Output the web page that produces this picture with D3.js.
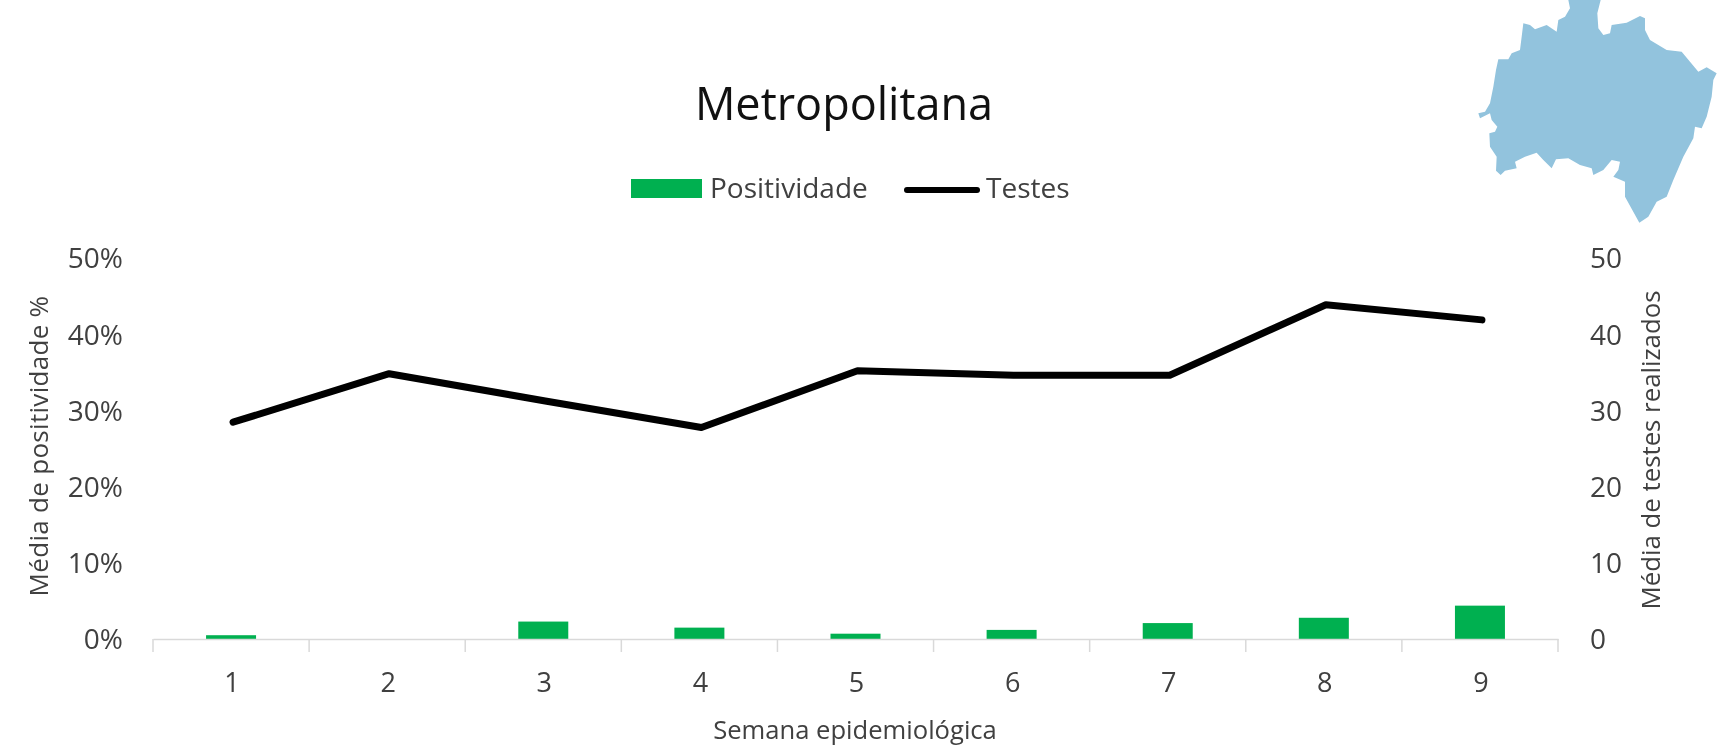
<!DOCTYPE html>
<html><head><meta charset="utf-8">
<script src="https://cdnjs.cloudflare.com/ajax/libs/d3/7.8.5/d3.min.js"></script>
<style>html,body{margin:0;background:#fff}svg{display:block;filter:blur(0.4px)}text{font-family:"Open Sans",sans-serif}</style>
</head><body><svg id="c" width="1728" height="756"></svg>
<script>
const weeks=[1,2,3,4,5,6,7,8,9];
const positividade=[0.5,0,2.3,1.5,0.7,1.2,2.1,2.8,4.4];
const testes=[28.6,35,31.4,27.9,35.4,34.8,34.8,44.1,42.1];
const leftTicks=[0,10,20,30,40,50];
const rightTicks=[0,10,20,30,40,50];
const mapOutline=[[385,0],[390,25],[375,50],[355,60],[350,95],[320,75],[285,88],[270,75],[250,70],[245,110],[240,150],[215,160],[205,178],[175,178],[168,210],[160,260],[150,310],[135,335],[115,340],[120,355],[150,340],[155,360],[172,380],[165,395],[148,400],[150,440],[170,470],[168,512],[182,525],[195,512],[230,505],[225,485],[255,470],[290,458],[310,480],[335,505],[348,478],[385,475],[420,495],[455,505],[460,525],[490,510],[515,480],[540,485],[535,510],[520,530],[555,545],[555,590],[598,668],[625,650],[650,605],[680,590],[700,540],[730,470],[760,415],[765,380],[785,385],[800,350],[815,290],[820,240],[830,220],[800,202],[775,215],[750,185],[725,155],[680,150],[630,120],[615,90],[615,55],[600,48],[560,68],[515,75],[510,100],[490,105],[475,85],[472,40],[482,0]];

const svg=d3.select('#c');
const L=153,R=1558,T=260,B=639;
const x=d3.scaleBand().domain(weeks).range([L,R]).paddingInner(0).paddingOuter(0);
const yL=d3.scaleLinear().domain([0,50]).range([B,T]);
const yR=d3.scaleLinear().domain([0,50]).range([B,T]);
const yLabel=d3.scaleLinear().domain([0,50]).range([B+1,T-1]);
const text='#404040';
const font='"Open Sans",sans-serif';

// map
const mx=d3.scaleLinear().domain([0,288*3]).range([1440,1728]);
const my=d3.scaleLinear().domain([0,240*3]).range([0,240]);
svg.append('path').datum(mapOutline)
  .attr('d',d3.line().x(d=>mx(d[0])).y(d=>my(d[1])).curve(d3.curveLinearClosed))
  .attr('fill','#92c3dd');

// bars
svg.selectAll('.bar').data(weeks).join('rect').attr('class','bar')
  .attr('x',d=>x(d)+x.bandwidth()/2-25).attr('width',50)
  .attr('y',(d,i)=>yL(positividade[i])).attr('height',(d,i)=>B-yL(positividade[i]))
  .attr('fill','#00b050');

// x axis
const ax=svg.append('g').attr('transform',`translate(0,${B})`)
  .call(d3.axisBottom(x).tickSize(0).tickPadding(34));
ax.select('.domain').attr('stroke','#d9d9d9').attr('stroke-width',1.5);
ax.selectAll('text').attr('font-size',27).attr('fill',text).attr('font-family',font).attr('dx',1);
ax.selectAll('.sep').data(d3.range(10)).join('line').attr('class','sep')
  .attr('x1',d=>L+d*x.step()).attr('x2',d=>L+d*x.step()).attr('y1',0).attr('y2',13)
  .attr('stroke','#d9d9d9').attr('stroke-width',1.5);

// y axes
const gl=svg.append('g').attr('transform',`translate(${L},0)`)
  .call(d3.axisLeft(yLabel).tickValues(leftTicks).tickSize(0).tickPadding(30).tickFormat(d=>d+'%'));
gl.select('.domain').remove();
gl.selectAll('text').attr('font-size',28).attr('fill',text).attr('font-family',font);
const gr=svg.append('g').attr('transform',`translate(${R},0)`)
  .call(d3.axisRight(yLabel).tickValues(rightTicks).tickSize(0).tickPadding(32));
gr.select('.domain').remove();
gr.selectAll('text').attr('font-size',28).attr('fill',text).attr('font-family',font);

// line
svg.append('path').datum(testes)
  .attr('d',d3.line().x((d,i)=>x(weeks[i])+x.bandwidth()/2+2).y(d=>yR(d)))
  .attr('fill','none').attr('stroke','#000').attr('stroke-width',7).attr('stroke-linecap','round').attr('stroke-linejoin','round');

// titles
svg.append('text').attr('x',844).attr('y',120).attr('text-anchor','middle').attr('font-size',45).attr('fill','#111').text('Metropolitana');
svg.append('text').attr('x',855).attr('y',739).attr('text-anchor','middle').attr('font-size',25.6).attr('fill',text).text('Semana epidemiológica');
svg.append('text').attr('transform','translate(48,446) rotate(-90)').attr('text-anchor','middle').attr('font-size',26).attr('letter-spacing',0.3).attr('fill',text).text('Média de positividade %');
svg.append('text').attr('transform','translate(1660,450) rotate(-90)').attr('text-anchor','middle').attr('font-size',25.8).attr('fill',text).text('Média de testes realizados');

// legend
svg.append('rect').attr('x',631).attr('y',179).attr('width',71).attr('height',19).attr('fill','#00b050');
svg.append('text').attr('x',710).attr('y',198).attr('font-size',28).attr('fill',text).text('Positividade');
svg.append('line').attr('x1',907).attr('x2',977).attr('y1',190).attr('y2',190).attr('stroke','#000').attr('stroke-width',6).attr('stroke-linecap','round');
svg.append('text').attr('x',986).attr('y',198).attr('font-size',28).attr('fill',text).text('Testes');
</script></body></html>
